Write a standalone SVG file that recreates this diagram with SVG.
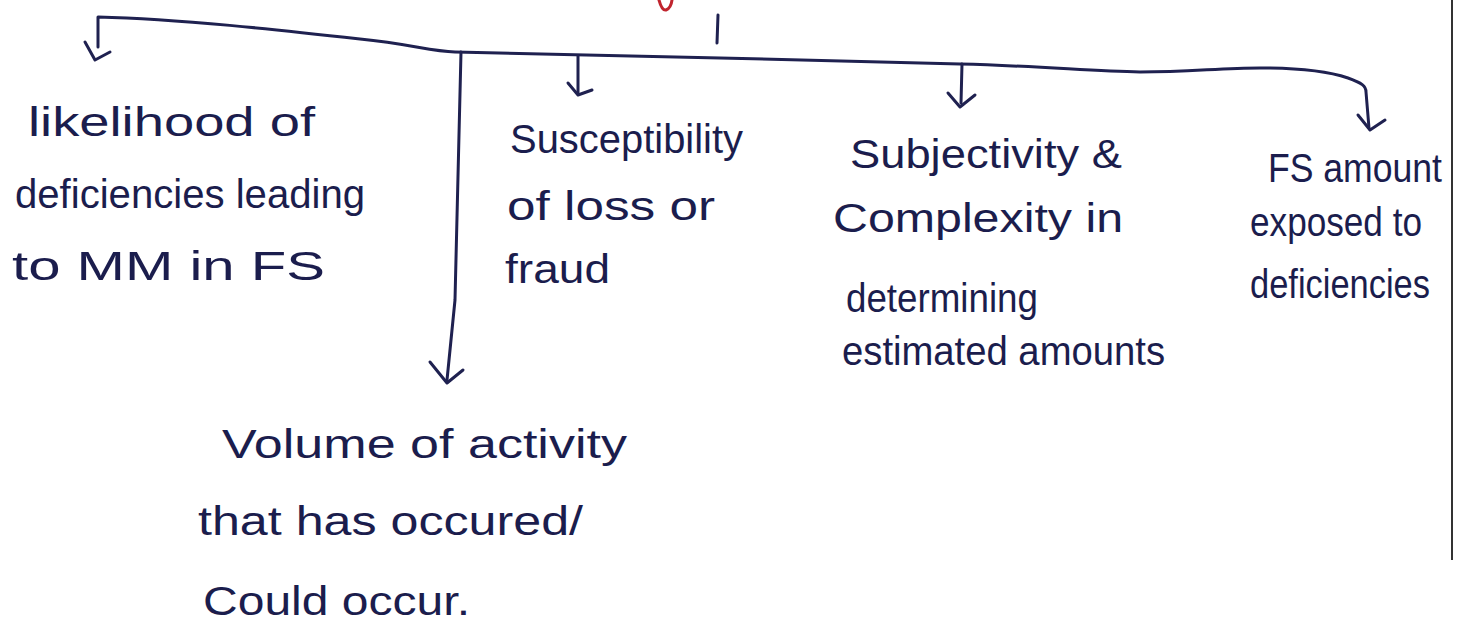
<svg xmlns="http://www.w3.org/2000/svg" width="1461" height="624" viewBox="0 0 1461 624">
  <style>
    .ink { fill: none; stroke: #1f2150; stroke-width: 3; stroke-linecap: round; stroke-linejoin: round; }
    .txt { font-family: "Liberation Sans", Arial, sans-serif; font-size: 40px; fill: #1b1d4d; }
  </style>
  <rect width="1461" height="624" fill="#ffffff"/>
  <!-- page border on right -->
  <line x1="1452" y1="0" x2="1452" y2="560" stroke="#333" stroke-width="2"/>
  <!-- cut-off red stroke at top -->
  <path d="M659,0 Q662,11 666,10 Q671,8 672,0" fill="none" stroke="#c0242e" stroke-width="3" stroke-linecap="round"/>

  <g id="connectors">
    <!-- tick from title -->
    <path class="ink" d="M718,15 L717,43"/>
    <!-- main bracket line -->
    <path class="ink" d="M98,47 L98,17 C180,19 280,30 360,39 C410,44 430,51 455,52 C560,54 640,56 720,58 C800,60 880,62 960,64 C1040,66 1090,71 1140,72 C1190,72 1220,68 1260,68 C1300,68 1330,72 1348,78 C1362,83 1366,86 1366,92 L1369,128"/>
    <!-- arrow 1 -->
    <path class="ink" d="M85,42 L95,60 L110,52"/>
    <!-- long vertical -->
    <path class="ink" d="M461,52 L455,300 L447,380"/>
    <path class="ink" d="M430,362 L447,383 L463,370"/>
    <!-- arrow 2 -->
    <path class="ink" d="M578,56 L578,93"/>
    <path class="ink" d="M568,83 L578,95 L592,90"/>
    <!-- arrow 3 -->
    <path class="ink" d="M962,64 L961,103"/>
    <path class="ink" d="M948,93 L960,107 L975,95"/>
    <!-- arrow 4 -->
    <path class="ink" d="M1358,115 L1370,130 L1385,120"/>
  </g>

  <g id="node-likelihood">
    <text class="txt" x="28" y="136" textLength="287" lengthAdjust="spacingAndGlyphs">likelihood of</text>
    <text class="txt" x="15" y="208" textLength="350" lengthAdjust="spacingAndGlyphs">deficiencies leading</text>
    <text class="txt" x="12" y="280" textLength="313" lengthAdjust="spacingAndGlyphs">to MM in FS</text>
  </g>

  <g id="node-susceptibility">
    <text class="txt" x="510" y="153" textLength="233" lengthAdjust="spacingAndGlyphs">Susceptibility</text>
    <text class="txt" x="507" y="220" textLength="208" lengthAdjust="spacingAndGlyphs">of loss or</text>
    <text class="txt" x="505" y="283" textLength="105" lengthAdjust="spacingAndGlyphs">fraud</text>
  </g>

  <g id="node-subjectivity">
    <text class="txt" x="850" y="168" textLength="272" lengthAdjust="spacingAndGlyphs">Subjectivity &amp;</text>
    <text class="txt" x="833" y="232" textLength="290" lengthAdjust="spacingAndGlyphs">Complexity in</text>
    <text class="txt" x="846" y="312" textLength="192" lengthAdjust="spacingAndGlyphs">determining</text>
    <text class="txt" x="842" y="365" textLength="323" lengthAdjust="spacingAndGlyphs">estimated amounts</text>
  </g>

  <g id="node-fs-amount">
    <text class="txt" x="1268" y="182" textLength="174" lengthAdjust="spacingAndGlyphs">FS amount</text>
    <text class="txt" x="1250" y="236" textLength="172" lengthAdjust="spacingAndGlyphs">exposed to</text>
    <text class="txt" x="1250" y="298" textLength="180" lengthAdjust="spacingAndGlyphs">deficiencies</text>
  </g>

  <g id="node-volume">
    <text class="txt" x="222" y="458" textLength="405" lengthAdjust="spacingAndGlyphs">Volume of activity</text>
    <text class="txt" x="198" y="535" textLength="385" lengthAdjust="spacingAndGlyphs">that has occured/</text>
    <text class="txt" x="203" y="615" textLength="267" lengthAdjust="spacingAndGlyphs">Could occur.</text>
  </g>
</svg>
